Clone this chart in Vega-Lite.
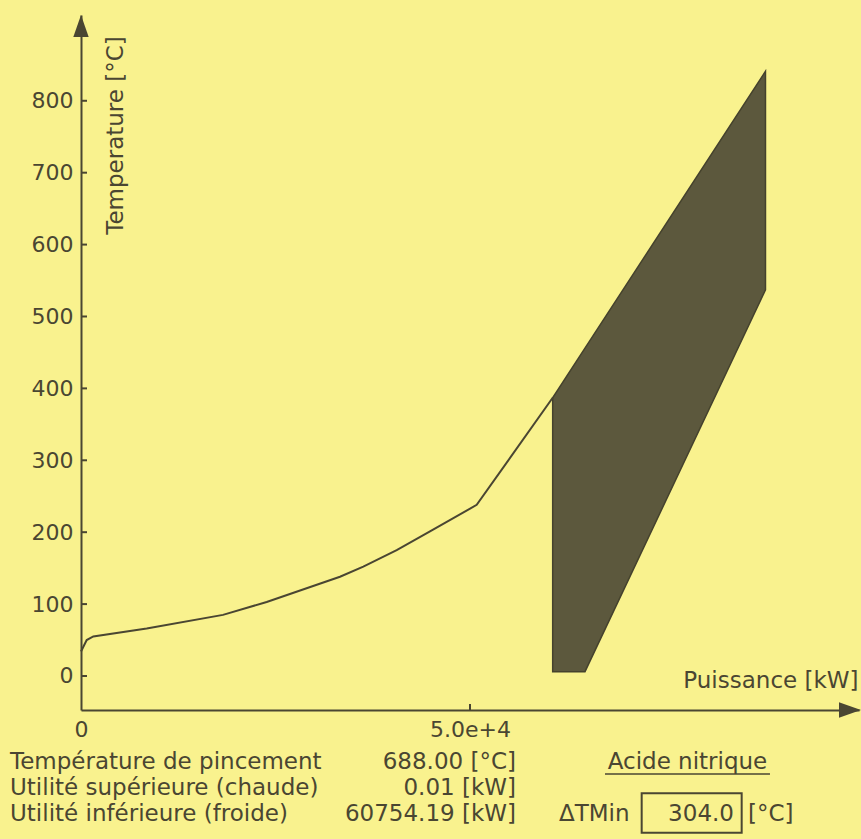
{
  "$schema": "https://vega.github.io/schema/vega-lite/v6.json",
  "width": 778,
  "height": 695,
  "autosize": {"type": "none"},
  "padding": {"left": 81, "top": 15, "right": 2, "bottom": 129},
  "background": "#F9F28E",
  "config": {"view": {"stroke": null}, "font": "DejaVu Sans"},
  "datasets": {
    "curve": [
      {"Q": 0, "T": 34},
      {"Q": 733, "T": 50},
      {"Q": 1581, "T": 55},
      {"Q": 8444, "T": 66},
      {"Q": 18251, "T": 85},
      {"Q": 23868, "T": 103},
      {"Q": 33289, "T": 138},
      {"Q": 36284, "T": 152},
      {"Q": 40577, "T": 175},
      {"Q": 44857, "T": 201},
      {"Q": 50860, "T": 238},
      {"Q": 60628, "T": 387}
    ],
    "band": [
      {"Q": 60628, "T_low": 6, "T_high": 387},
      {"Q": 64779, "T_low": 6, "T_high": 456},
      {"Q": 87979, "T_low": 537, "T_high": 841}
    ],
    "yticks": [
      {"T": 0}, {"T": 100}, {"T": 200}, {"T": 300}, {"T": 400},
      {"T": 500}, {"T": 600}, {"T": 700}, {"T": 800}
    ],
    "xticks": [{"Q": 50000}],
    "one": [{}]
  },
  "layer": [
    {
      "data": {"name": "band"},
      "mark": {"type": "area", "fill": "#5C583D", "stroke": "#45422D", "strokeWidth": 1.5, "opacity": 1},
      "encoding": {
        "x": {
          "field": "Q", "type": "quantitative",
          "scale": {"domain": [0, 100000], "nice": false, "zero": false},
          "axis": {
            "values": [0, 50000],
            "labelExpr": "datum.value == 0 ? '0' : '5.0e+4'",
            "grid": false, "ticks": false,
            "domainColor": "#4A4632", "domainWidth": 2,
            "labelColor": "#4A4632", "labelFontSize": 22, "labelFont": "DejaVu Sans",
            "labelPadding": 9, "labelFlush": false, "labelOverlap": false,
            "title": "Puissance [kW]", "titleFont": "DejaVu Sans", "titleFontSize": 23,
            "titleFontWeight": "normal", "titleColor": "#4A4632",
            "titleX": 777, "titleY": -30, "titleAlign": "right", "titleBaseline": "middle", "titleAngle": 0
          }
        },
        "y": {
          "field": "T_low", "type": "quantitative",
          "scale": {"domain": [-47.3, 919.3], "nice": false, "zero": false},
          "axis": {
            "values": [0, 100, 200, 300, 400, 500, 600, 700, 800],
            "grid": false, "ticks": false,
            "domainColor": "#4A4632", "domainWidth": 2,
            "labelColor": "#4A4632", "labelFontSize": 22, "labelFont": "DejaVu Sans",
            "labelPadding": 8, "labelFlush": false, "labelOverlap": false,
            "title": "Temperature [°C]", "titleFont": "DejaVu Sans", "titleFontSize": 23,
            "titleFontWeight": "normal", "titleColor": "#4A4632",
            "titleX": 34, "titleY": 120, "titleAlign": "center", "titleBaseline": "middle", "titleAngle": 270
          }
        },
        "y2": {"field": "T_high"}
      }
    },
    {
      "data": {"name": "curve"},
      "mark": {"type": "line", "color": "#4A4632", "strokeWidth": 2},
      "encoding": {
        "x": {"field": "Q", "type": "quantitative"},
        "y": {"field": "T", "type": "quantitative"}
      }
    },
    {
      "data": {"name": "yticks"},
      "mark": {"type": "point", "shape": "M0,0L1,0", "filled": false, "size": 144, "stroke": "#4A4632", "strokeWidth": 2, "opacity": 1},
      "encoding": {"x": {"datum": 0}, "y": {"field": "T", "type": "quantitative"}}
    },
    {
      "data": {"name": "xticks"},
      "mark": {"type": "point", "shape": "M0,0L0,-1", "filled": false, "size": 144, "stroke": "#4A4632", "strokeWidth": 2, "opacity": 1},
      "encoding": {"x": {"field": "Q", "type": "quantitative"}, "y": {"datum": -47.3}}
    },
    {
      "data": {"name": "one"},
      "mark": {"type": "point", "shape": "M-0.7,1L0,-1L0.7,1Z", "filled": true, "size": 484, "color": "#4A4632", "opacity": 1},
      "encoding": {"x": {"datum": 0}, "y": {"datum": 904}}
    },
    {
      "data": {"name": "one"},
      "mark": {"type": "point", "shape": "M-1,-0.7L1,0L-1,0.7Z", "filled": true, "size": 484, "color": "#4A4632", "opacity": 1},
      "encoding": {"x": {"datum": 98840}, "y": {"datum": -47.3}}
    },
    {
      "data": {"name": "one"},
      "mark": {"type": "text", "align": "left", "baseline": "middle", "fontSize": 23, "font": "DejaVu Sans", "color": "#4A4632"},
      "encoding": {"x": {"datum": -9126}, "y": {"datum": -119.6}, "text": {"value": "Température de pincement"}}
    },
    {
      "data": {"name": "one"},
      "mark": {"type": "text", "align": "left", "baseline": "middle", "fontSize": 23, "font": "DejaVu Sans", "color": "#4A4632"},
      "encoding": {"x": {"datum": -9126}, "y": {"datum": -155.8}, "text": {"value": "Utilité supérieure (chaude)"}}
    },
    {
      "data": {"name": "one"},
      "mark": {"type": "text", "align": "left", "baseline": "middle", "fontSize": 23, "font": "DejaVu Sans", "color": "#4A4632"},
      "encoding": {"x": {"datum": -9126}, "y": {"datum": -192}, "text": {"value": "Utilité inférieure (froide)"}}
    },
    {
      "data": {"name": "one"},
      "mark": {"type": "text", "align": "right", "baseline": "middle", "fontSize": 23, "font": "DejaVu Sans", "color": "#4A4632"},
      "encoding": {"x": {"datum": 55911}, "y": {"datum": -119.6}, "text": {"value": "688.00 [°C]"}}
    },
    {
      "data": {"name": "one"},
      "mark": {"type": "text", "align": "right", "baseline": "middle", "fontSize": 23, "font": "DejaVu Sans", "color": "#4A4632"},
      "encoding": {"x": {"datum": 55911}, "y": {"datum": -155.8}, "text": {"value": "0.01 [kW]"}}
    },
    {
      "data": {"name": "one"},
      "mark": {"type": "text", "align": "right", "baseline": "middle", "fontSize": 23, "font": "DejaVu Sans", "color": "#4A4632"},
      "encoding": {"x": {"datum": 55911}, "y": {"datum": -192}, "text": {"value": "60754.19 [kW]"}}
    },
    {
      "data": {"name": "one"},
      "mark": {"type": "text", "align": "center", "baseline": "middle", "fontSize": 23, "font": "DejaVu Sans", "color": "#4A4632"},
      "encoding": {"x": {"datum": 77953}, "y": {"datum": -119.6}, "text": {"value": "Acide nitrique"}}
    },
    {
      "data": {"name": "one"},
      "mark": {"type": "rule", "color": "#4A4632", "strokeWidth": 1.5},
      "encoding": {"x": {"datum": 67350}, "x2": {"datum": 88557}, "y": {"datum": -136.3}}
    },
    {
      "data": {"name": "one"},
      "mark": {"type": "text", "align": "left", "baseline": "middle", "fontSize": 23, "font": "DejaVu Sans", "color": "#4A4632"},
      "encoding": {"x": {"datum": 61437}, "y": {"datum": -192}, "text": {"value": "ΔTMin"}}
    },
    {
      "data": {"name": "one"},
      "mark": {"type": "rect", "filled": false, "stroke": "#4A4632", "strokeWidth": 2},
      "encoding": {"x": {"datum": 72067}, "x2": {"datum": 84920}, "y": {"datum": -163}, "y2": {"datum": -218}}
    },
    {
      "data": {"name": "one"},
      "mark": {"type": "text", "align": "right", "baseline": "middle", "fontSize": 23, "font": "DejaVu Sans", "color": "#4A4632"},
      "encoding": {"x": {"datum": 83930}, "y": {"datum": -192}, "text": {"value": "304.0"}}
    },
    {
      "data": {"name": "one"},
      "mark": {"type": "text", "align": "left", "baseline": "middle", "fontSize": 23, "font": "DejaVu Sans", "color": "#4A4632"},
      "encoding": {"x": {"datum": 85730}, "y": {"datum": -192}, "text": {"value": "[°C]"}}
    }
  ]
}
